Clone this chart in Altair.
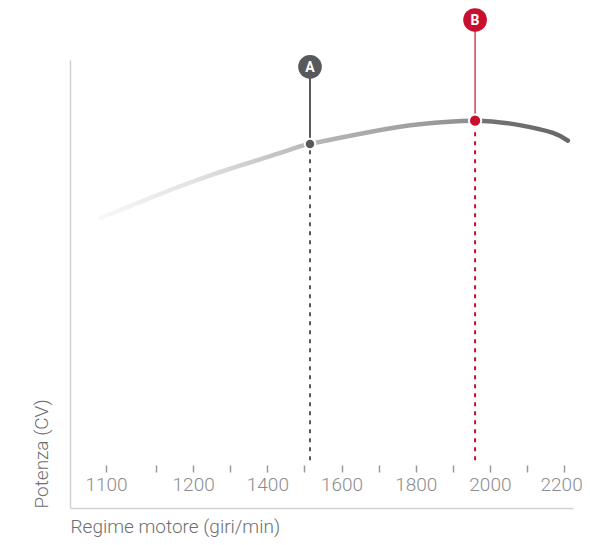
import altair as alt
import pandas as pd

# ---- data ----
rpm = [950, 1060, 1190, 1330, 1460, 1515, 1680, 1810, 1960, 2080, 2170, 2210]
power_cv = [97.1, 102.6, 108.9, 114.8, 119.9, 121.9, 126.0, 128.5, 129.7, 128.2, 125.6, 123.0]

marker_names = ["A", "B"]
marker_rpm = [1515, 1960]
marker_cv = [121.9, 129.7]
marker_label_cv = [147.7, 163.4]
marker_base_cv = [16.0, 16.0]

tick_values = [965, 1100, 1200, 1300, 1400, 1500, 1600, 1700, 1800, 1900, 2000, 2100, 2200]
tick_labels = ["1100", "", "1200", "", "1400", "", "1600", "", "1800", "", "2000", "", "2200"]

curve = pd.DataFrame({"rpm": rpm, "cv": power_cv})
markers = pd.DataFrame({
    "name": marker_names,
    "rpm": marker_rpm,
    "cv": marker_cv,
    "cv_label": marker_label_cv,
    "cv_base": marker_base_cv,
})

FONT = "Roboto"
GRAY = "#58595b"
RED = "#c8102e"

label_expr = " : ".join(
    f"datum.value == {v} ? '{l}'" for v, l in zip(tick_values, tick_labels) if l
) + " : ''"

xscale = alt.Scale(domain=[868, 2224], nice=False, zero=False)
yscale = alt.Scale(domain=[0, 150], nice=False, zero=False)

color_marker = alt.Color("name:N", scale=alt.Scale(domain=marker_names, range=[GRAY, RED]), legend=None)

gradient = alt.Gradient(
    gradient="linear",
    stops=[
        alt.GradientStop(offset=0.0, color="#f8f8f8"),
        alt.GradientStop(offset=0.2, color="#e2e2e2"),
        alt.GradientStop(offset=0.445, color="#b8b8b8"),
        alt.GradientStop(offset=0.7, color="#9c9c9c"),
        alt.GradientStop(offset=0.79, color="#8e8e8e"),
        alt.GradientStop(offset=0.815, color="#737375"),
        alt.GradientStop(offset=1.0, color="#68686a"),
    ],
    x1=0, x2=1, y1=0, y2=0,
)

line = alt.Chart(curve).mark_line(
    stroke=gradient, strokeWidth=4.5, interpolate="natural", strokeCap="round"
).encode(
    x=alt.X("rpm:Q", scale=xscale, axis=alt.Axis(
        orient="bottom", domain=True, domainColor="#d2d2d2", domainWidth=1.5,
        ticks=False, labels=False, grid=False,
        title="Regime motore (giri/min)", titleAnchor="start", titleFont=FONT,
        titleFontSize=19, titleFontWeight=300, titleColor="#6d6e71", titlePadding=9,
    )),
    y=alt.Y("cv:Q", scale=yscale, axis=alt.Axis(
        orient="left", domain=True, domainColor="#d2d2d2", domainWidth=1.5,
        ticks=False, labels=False, grid=False,
        title="Potenza (CV)", titleAnchor="start", titleFont=FONT,
        titleFontSize=19, titleFontWeight=300, titleColor="#6d6e71", titlePadding=19,
    )),
)

dashed = alt.Chart(markers).mark_rule(strokeDash=[4, 5], strokeWidth=2).encode(
    x=alt.X("rpm:Q", scale=xscale, axis=alt.Axis(
        orient="bottom", offset=-43, domain=False, ticks=True, tickSize=7,
        tickColor="#9a9a9a", tickWidth=1.5, values=tick_values, labelExpr=label_expr,
        labelFont=FONT, labelFontSize=19, labelFontWeight=300, labelColor="#8c8c8c",
        labelPadding=3, labelFlush=False, labelOverlap=False, grid=False, title=None,
        labelOffset=alt.condition("datum.value == 2200", alt.value(-3), alt.value(0)),
    )),
    y=alt.Y("cv_base:Q", scale=yscale, axis=None),
    y2="cv:Q",
    color=color_marker,
)

stems = alt.Chart(markers).mark_rule().encode(
    x=alt.X("rpm:Q", scale=xscale, axis=None),
    y=alt.Y("cv:Q", scale=yscale, axis=None),
    y2="cv_label:Q",
    color=alt.Color("name:N", scale=alt.Scale(domain=marker_names, range=["#6d6e71", "#e0697c"]), legend=None),
    strokeWidth=alt.StrokeWidth("name:N", scale=alt.Scale(domain=marker_names, range=[2, 1.2]), legend=None),
)

dots = alt.Chart(markers).mark_point(filled=True, shape="circle", opacity=1, stroke="white", strokeWidth=2).encode(
    x=alt.X("rpm:Q", scale=xscale, axis=None),
    y=alt.Y("cv:Q", scale=yscale, axis=None),
    fill=alt.Fill("name:N", scale=alt.Scale(domain=marker_names, range=[GRAY, RED]), legend=None),
    size=alt.Size("name:N", scale=alt.Scale(domain=marker_names, range=[110, 150]), legend=None),
)

badges = alt.Chart(markers).mark_circle(size=560, opacity=1).encode(
    x=alt.X("rpm:Q", scale=xscale, axis=None),
    y=alt.Y("cv_label:Q", scale=yscale, axis=None),
    color=color_marker,
)

badge_text = alt.Chart(markers).mark_text(
    color="white", font=FONT, fontSize=14, fontWeight="bold", baseline="middle", align="center", dy=1
).encode(
    x=alt.X("rpm:Q", scale=xscale, axis=None),
    y=alt.Y("cv_label:Q", scale=yscale, axis=None),
    text="name:N",
)

chart = alt.layer(line, dashed, stems, dots, badges, badge_text).resolve_axis(
    x="independent", y="independent"
).properties(
    width=503, height=448,
    autosize=alt.AutoSizeParams(type="none"),
    padding={"left": 62, "top": 52, "right": 9, "bottom": 29},
    background="white",
).configure_view(stroke=None)

chart.save("out.html", embed_options={"renderer": "svg", "actions": False})
